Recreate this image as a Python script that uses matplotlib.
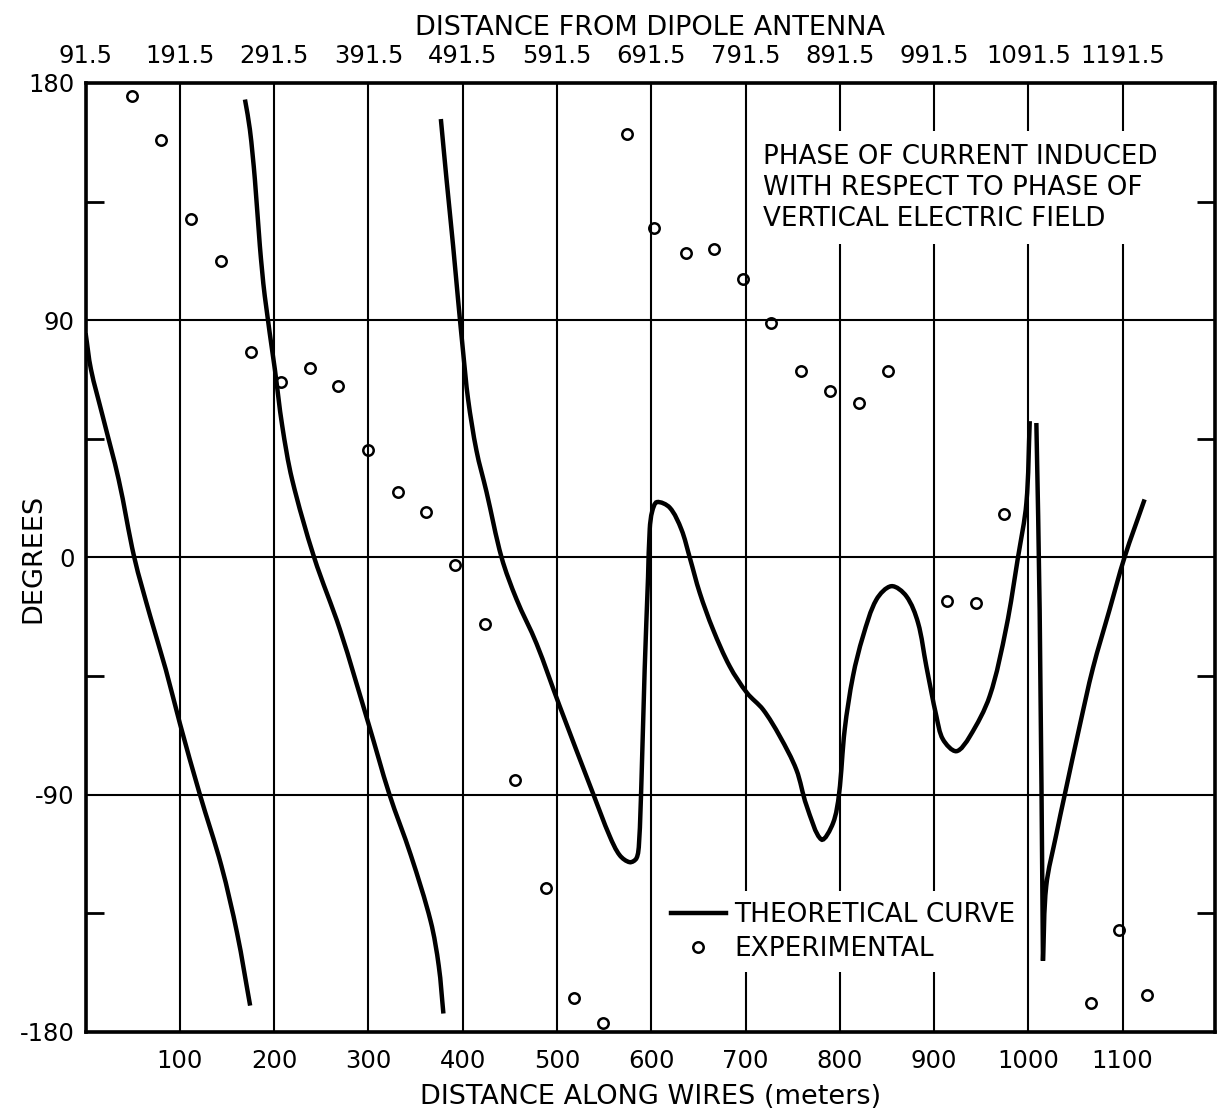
import numpy as np
import matplotlib
matplotlib.use("Agg")
import matplotlib.pyplot as plt
from matplotlib.path import Path
from matplotlib.patches import PathPatch

plt.rcParams['font.family'] = ['DejaVu Sans']
plt.rcParams['axes.unicode_minus'] = False

# ----- data -----
# theoretical curve (NaN = pen lifted where phase wraps / at the spike)
theory_x = [0, 5.6, 18, 35, 51.6, 68.5, 85, 100, 121, 144, 160.7, 174.5, np.nan,
            169, 174.2, 179.5, 184.8, 190, 200.7, 208.5, 219, 242.4, 269.7, 300,
            322, 345, 366, 374.6, 379.5, np.nan,
            376.8, 382.8, 389.8, 395, 400.4, 405.7, 414.6, 425.2, 441.2, 457, 478.3,
            502.3, 538.3, 556, 566.6, 577.2, 584.3, 587, 589.6, 593, 596.6,
            598.4, 601, 606, 619.6, 632, 640.8, 651.4, 665.5, 683.2, 701.6, 718.6,
            736.3, 753.9, 764.6, 780.5, 792.8, 799.2, 805.2, 814, 824.6, 838.8, 854.7,
            870.6, 883, 891.8, 902.5, 909.4, 923.6, 937.7, 959, 976.6, 989, 997.9,
            1001.5, np.nan,
            1008.5, 1012, 1015.5, 1019, 1029.7, 1038.6, 1054.4, 1068.5, 1086, 1102, 1123.3]
theory_y = [85, 71.4, 53.7, 29.6, 0, -22.3, -42.5, -63, -89.7, -117, -142.6, -170, np.nan,
            173.7, 162.4, 143.5, 118.2, 99.2, 71.4, 50, 29.6, 0, -27.3, -63,
            -89.6, -113, -138, -155, -173, np.nan,
            166.3, 143.5, 118.2, 98, 78, 60, 40.5, 24.9, 0, -15.8, -32.7,
            -55.9, -89.6, -105.8, -113, -115.6, -114.1, -108.5, -84.7, -42.5, -7.4,
            10.9, 17.5, 21, 18.9, 10.6, 0, -13.4, -27.3, -41.3, -51.4, -57.7,
            -67.8, -80.5, -94, -107, -100.8, -89.7, -65.3, -45, -29.9, -16, -10.9,
            -14.7, -24.8, -41.3, -60.3, -69, -73.5, -68, -52.6, -26.5, 0, 20.6,
            51.7, np.nan,
            51, -20, -153, -124.6, -105, -90, -64, -42, -20, 0, 22]
# points where the drawn curve has a sharp corner
sharp_x = [1015.5]

# experimental points
exp_x = [49, 80, 112, 144, 175, 207, 238, 268, 299, 331, 361, 392, 424, 455, 488,
         518, 549, 574, 603, 637, 667, 697, 727, 759, 790, 820, 851, 914, 945, 974,
         1066, 1096, 1126]
exp_y = [175, 158.5, 128.5, 112.5, 78, 66.5, 72, 65, 40.7, 24.7, 17.2, -2.8, -25.2,
         -84.3, -125.4, -167, -176.6, 160.6, 124.8, 115.4, 117, 105.8, 89, 70.8, 63,
         58.5, 70.6, -16.7, -17.3, 16.4, -169, -141.4, -166]

bottom_ticks = [100, 200, 300, 400, 500, 600, 700, 800, 900, 1000, 1100]
top_ticks = [0, 100, 200, 300, 400, 500, 600, 700, 800, 900, 1000, 1100]
top_labels = ["91.5", "191.5", "291.5", "391.5", "491.5", "591.5", "691.5",
              "791.5", "891.5", "991.5", "1091.5", "1191.5"]
deg_ticks = [-180, -90, 0, 90, 180]
deg_labels = ["-180", "-90", "0", "90", "180"]
deg_minor = [-135, -45, 45, 135]


def curve_path(xs, ys, corners, sx, sy):
    """Bezier path through the read points (drawn smooth like a french curve)."""
    xs = np.asarray(xs, float)
    ys = np.asarray(ys, float)
    verts, codes = [], []
    strokes = np.split(np.arange(len(xs)), np.where(np.isnan(xs))[0])
    for idx in strokes:
        idx = idx[~np.isnan(xs[idx])]
        pieces, start = [], 0
        for k in range(1, len(idx) - 1):
            if xs[idx[k]] in corners:
                pieces.append(idx[start:k + 1])
                start = k
        pieces.append(idx[start:])
        for p in pieces:
            P = np.column_stack([xs[p], ys[p]])
            d = np.hypot(np.diff(P[:, 0]) * sx, np.diff(P[:, 1]) * sy)
            n = len(P)
            m = np.zeros_like(P)
            m[0] = (P[1] - P[0]) / d[0]
            m[-1] = (P[-1] - P[-2]) / d[-1]
            for i in range(1, n - 1):
                m[i] = (P[i + 1] - P[i - 1]) / (d[i - 1] + d[i])
            verts.append(P[0])
            codes.append(Path.MOVETO)
            for i in range(n - 1):
                verts += [P[i] + m[i] * d[i] / 3, P[i + 1] - m[i + 1] * d[i] / 3, P[i + 1]]
                codes += [Path.CURVE4] * 3
    return Path(verts, codes)


# ----- figure -----
fig = plt.figure(figsize=(12.2, 11.13), dpi=100)
ax = fig.add_axes([0.0702, 0.0728, 0.9257, 0.8527])
ax.set_xlim(0, 1198)
ax.set_ylim(-180, 180)

# pixel size of one data unit, for even smoothing in both directions
o = ax.transData.transform((0, 0))
sx = ax.transData.transform((1, 0))[0] - o[0]
sy = ax.transData.transform((0, 1))[1] - o[1]

ax.add_patch(PathPatch(curve_path(theory_x, theory_y, sharp_x, sx, sy), fill=False,
                       edgecolor='black', lw=3.2, capstyle='butt', joinstyle='miter',
                       zorder=6))
ax.plot([], [], color='black', lw=3.2, label='THEORETICAL CURVE')
ax.plot(exp_x, exp_y, ls='none', marker='o', ms=7.5, mfc='none', mec='black',
        mew=1.8, label='EXPERIMENTAL', zorder=4)

ax.set_xticks(bottom_ticks)
ax.set_xticklabels([str(t) for t in bottom_ticks], fontsize=17.5)
ax.set_yticks(deg_ticks)
ax.set_yticklabels(deg_labels, fontsize=17.5)
ax.set_yticks(deg_minor, minor=True)
ax.tick_params(axis='x', length=0, pad=12)
ax.tick_params(axis='y', which='major', length=0, pad=8)
ax.tick_params(axis='y', which='minor', direction='in', length=13, width=2,
               left=True, right=True)

ax.grid(True, color='black', lw=1.5, zorder=1)
for s in ax.spines.values():
    s.set_linewidth(2.6)

ax.set_xlabel("DISTANCE ALONG WIRES (meters)", fontsize=19.5, labelpad=8)
fig.text(33 / 1220, 1 - 558 / 1113, "DEGREES", rotation=90, fontsize=19.5,
         ha='center', va='center')

top = ax.twiny()
top.set_xlim(ax.get_xlim())
top.set_xticks(top_ticks)
top.set_xticklabels(top_labels, fontsize=17.5)
top.tick_params(axis='x', length=0, pad=11)
top.set_xlabel("DISTANCE FROM DIPOLE ANTENNA", fontsize=19.5, labelpad=6)

ax.text(0.600, 0.936, "PHASE OF CURRENT INDUCED\nWITH RESPECT TO PHASE OF\nVERTICAL ELECTRIC FIELD",
        transform=ax.transAxes, fontsize=18.8, ha='left', va='top', linespacing=1.25,
        bbox=dict(facecolor='white', edgecolor='none', pad=9), zorder=5)

leg = ax.legend(loc='upper left', bbox_to_anchor=(0.497, 0.162), fontsize=19,
                frameon=True, fancybox=False, edgecolor='none', framealpha=1,
                handlelength=2.1, handletextpad=0.3, labelspacing=0.3,
                borderpad=0.4)
leg.set_zorder(5)

fig.savefig("out.png", dpi=100)
